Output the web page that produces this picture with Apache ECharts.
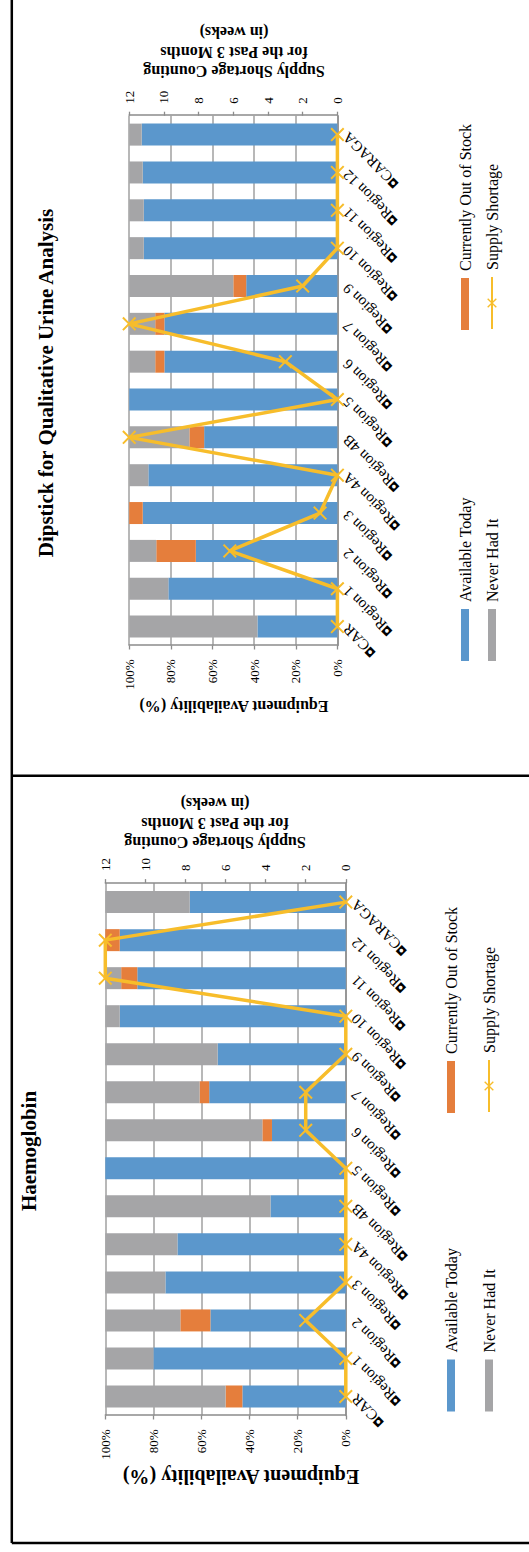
<!DOCTYPE html>
<html>
<head>
<meta charset="utf-8">
<script src="https://cdn.jsdelivr.net/npm/echarts@6/dist/echarts.min.js"></script>
<style>
html,body{margin:0;padding:0;overflow:hidden;background:#fff;width:529px;height:1552px;}
#page{position:absolute;left:0;top:0;width:1552px;height:529px;transform-origin:0 0;transform:translate(0px,1552px) rotate(-90deg);background:#fff;}
</style>
</head>
<body>
<div id="page"></div>
<script>
// ---------- data ----------
const categories = ['CAR','Region 1','Region 2','Region 3','Region 4A','Region 4B','Region 5','Region 6','Region 7','Region 9','Region 10','Region 11','Region 12','CARAGA'];

const pctTicks = [0, 20, 40, 60, 80, 100];
const weekTicks = [0, 2, 4, 6, 8, 10, 12];

// Haemoglobin (%)
const hbAvailable  = [43, 80, 56.3, 75, 70, 31.3, 100, 30.7, 56.8, 53.3, 94, 86.7, 94, 64.9];
const hbOutOfStock = [7, 0, 12.5, 0, 0, 0, 0, 4, 4, 0, 0, 6.7, 6, 0];
const hbNeverHad   = [50, 20, 31.2, 25, 30, 68.7, 0, 65.3, 39.2, 46.7, 6, 6.6, 0, 35.1];
const hbShortage   = [0, 0, 2, 0, 0, 0, 0, 2, 2, 0, 0, 12, 12, 0];

// Dipstick for Qualitative Urine Analysis (%)
const dsAvailable  = [38.4, 81.2, 68, 93.5, 90.8, 64, 100, 83.1, 83.1, 43.8, 93, 93, 93.5, 94];
const dsOutOfStock = [0, 0, 19, 6.5, 0, 7.1, 0, 4.4, 4.4, 6.2, 0, 0, 0, 0];
const dsNeverHad   = [61.6, 18.8, 13, 0, 9.2, 28.9, 0, 12.5, 12.5, 50, 7, 7, 6.5, 6];
const dsShortage   = [0, 0, 6.2, 1, 0, 12, 0, 3, 12, 2, 0, 0, 0, 0];

const chartTitles = ['Haemoglobin', 'Dipstick for Qualitative Urine Analysis'];
const seriesNames = ['Available Today', 'Currently Out of Stock', 'Never Had It', 'Supply Shortage'];
const pctAxisTitle = 'Equipment Availability (%)';
const weekAxisTitle = 'Supply Shortage Counting\nfor the Past 3 Months\n(in weeks)';

// ---------- style / layout ----------
const SERIF = "'Liberation Serif','Times New Roman',serif";
const BLUE = '#5B97CC', ORANGE = '#E57E3C', GRAY = '#A5A5A7', GOLD = '#F7BD2B';
const AXIS = '#8C8C8C', GRID = '#A0A0A0';
const X_PATH = 'path://M0,1L1,0L5,4L9,0L10,1L6,5L10,9L9,10L5,6L1,10L0,9L4,5Z';

const panels = [
  { grid: {left: 136.5, top: 105.3, width: 532.4, height: 240.5},
    title: {x: 401, y: 29}, pctName: {x: 75, y: 241, size: 20}, weekName: {x: 729, y: 215},
    legendCols: [140.5, 439], legendRows: [452, 490],
    data: [hbAvailable, hbOutOfStock, hbNeverHad, hbShortage] },
  { grid: {left: 906.5, top: 129.2, width: 529.8, height: 208.2},
    title: {x: 1169, y: 46}, pctName: {x: 846, y: 234, size: 16}, weekName: {x: 1500, y: 234},
    legendCols: [891, 1222], legendRows: [466, 493],
    data: [dsAvailable, dsOutOfStock, dsNeverHad, dsShortage] }
];

const grids = [], xAxes = [], yAxes = [], series = [], legends = [], graphics = [];

panels.forEach((p, i) => {
  grids.push(Object.assign({containLabel: false}, p.grid));
  xAxes.push({
    type: 'category', gridIndex: i, data: categories, boundaryGap: true,
    axisLine: {show: true, lineStyle: {color: AXIS, width: 1.5}},
    axisTick: {show: false},
    splitLine: {show: false},
    axisLabel: {
      interval: 0, rotate: 45, margin: 8,
      formatter: v => '{m|\u25D8}{t|' + v + '}',
      rich: {
        m: {fontFamily: 'DejaVu Sans', fontWeight: 'bold', fontSize: 11, color: '#000'},
        t: {fontFamily: SERIF, fontSize: 15, color: '#000'}
      }
    }
  });
  yAxes.push({
    type: 'value', gridIndex: i, position: 'left',
    min: pctTicks[0], max: pctTicks[pctTicks.length - 1], interval: pctTicks[1] - pctTicks[0],
    axisLine: {show: true, lineStyle: {color: AXIS, width: 1.5}},
    axisTick: {show: true, length: 4, lineStyle: {color: AXIS, width: 1.3}},
    axisLabel: {formatter: '{value}%', fontFamily: SERIF, fontSize: 13, color: '#000', margin: 14},
    splitLine: {show: true, lineStyle: {color: GRID, width: 1.5}}
  });
  yAxes.push({
    type: 'value', gridIndex: i, position: 'right',
    min: weekTicks[0], max: weekTicks[weekTicks.length - 1], interval: weekTicks[1] - weekTicks[0],
    axisLine: {show: true, lineStyle: {color: AXIS, width: 1.5}},
    axisTick: {show: true, length: 4, lineStyle: {color: AXIS, width: 1.3}},
    axisLabel: {fontFamily: SERIF, fontSize: 13, color: '#000', margin: 12},
    splitLine: {show: false}
  });
  const colors = [BLUE, ORANGE, GRAY];
  for (let k = 0; k < 3; k++) {
    series.push({
      type: 'bar', name: seriesNames[k], xAxisIndex: i, yAxisIndex: 2 * i,
      stack: 'stack' + i, barWidth: 22, data: p.data[k],
      itemStyle: {color: colors[k]}
    });
  }
  series.push({
    type: 'line', name: seriesNames[3], xAxisIndex: i, yAxisIndex: 2 * i + 1,
    data: p.data[3], symbol: X_PATH, symbolSize: 14, showSymbol: true, clip: false, z: 5,
    lineStyle: {color: GOLD, width: 3.5}, itemStyle: {color: GOLD}
  });

  // legends (2 x 2)
  const legendPos = [[0, 0], [1, 0], [0, 1], [1, 1]]; // [col,row]
  seriesNames.forEach((nm, k) => {
    const isLine = k === 3;
    const lg = {
      left: p.legendCols[legendPos[k][0]],
      top: p.legendRows[legendPos[k][1]] - 9,
      orient: 'horizontal', padding: 0, selectedMode: false,
      itemWidth: 52, itemHeight: isLine ? 12 : 8,
      textStyle: {fontFamily: SERIF, fontSize: 16, color: '#000', padding: [0, 0, 0, 2]},
      data: [nm]
    };
    if (!isLine) lg.icon = 'rect';
    legends.push(lg);
  });

  // chart title
  graphics.push({
    type: 'text', x: p.title.x, y: p.title.y, z: 10,
    style: {text: chartTitles[i], font: 'bold 21px ' + SERIF, fill: '#000',
            textAlign: 'center', textVerticalAlign: 'middle', align: 'center', verticalAlign: 'middle'}
  });
  // axis titles
  graphics.push({
    type: 'text', x: p.pctName.x, y: p.pctName.y, rotation: Math.PI / 2, z: 10,
    style: {text: pctAxisTitle, font: 'bold ' + p.pctName.size + 'px ' + SERIF, fill: '#000',
            textAlign: 'center', textVerticalAlign: 'middle', align: 'center', verticalAlign: 'middle'}
  });
  graphics.push({
    type: 'text', x: p.weekName.x, y: p.weekName.y, rotation: Math.PI / 2, z: 10,
    style: {text: weekAxisTitle, font: 'bold 16px ' + SERIF, lineHeight: 19.5, fill: '#000',
            textAlign: 'center', textVerticalAlign: 'middle', align: 'center', verticalAlign: 'middle'}
  });
});

// frame lines
const frame = [
  [9, 11.8, 1552, 11.8],
  [9, 11.8, 9, 529],
  [776.3, 11.8, 776.3, 529]
];
frame.forEach(f => graphics.push({
  type: 'line', z: 10, shape: {x1: f[0], y1: f[1], x2: f[2], y2: f[3]},
  style: {stroke: '#000', lineWidth: 2.5}
}));

const chart = echarts.init(document.getElementById('page'), null, {renderer: 'svg'});
chart.setOption({
  animation: false,
  backgroundColor: '#fff',
  grid: grids, xAxis: xAxes, yAxis: yAxes, series: series, legend: legends, graphic: graphics
});
</script>
</body>
</html>
